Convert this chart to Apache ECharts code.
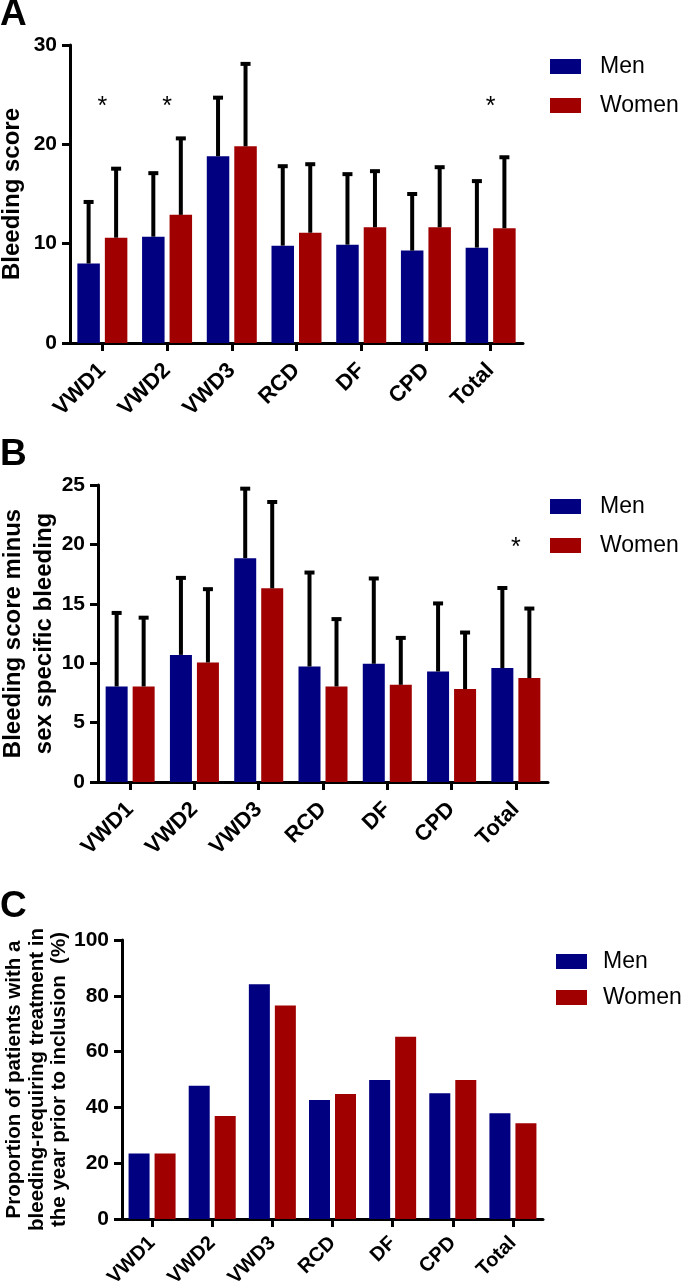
<!DOCTYPE html>
<html>
<head>
<meta charset="utf-8">
<script src="https://cdn.jsdelivr.net/npm/echarts@6/dist/echarts.min.js"></script>
<style>
html,body{margin:0;padding:0;background:#fff;}
#chart{width:683px;height:1286px;}
</style>
</head>
<body>
<div id="chart"></div>
<script>
// ---------- data ----------
const categories = ['VWD1', 'VWD2', 'VWD3', 'RCD', 'DF', 'CPD', 'Total'];
const seriesNames = ['Men', 'Women'];

// Panel A: bleeding score (mean and mean+SD)
const aMenMean = [8.0, 10.7, 18.8, 9.8, 9.9, 9.3, 9.6];
const aMenUpper = [14.4, 17.3, 24.9, 18.0, 17.2, 15.2, 16.5];
const aWomenMean = [10.6, 12.9, 19.8, 11.1, 11.65, 11.65, 11.55];
const aWomenUpper = [17.75, 20.8, 28.3, 18.2, 17.5, 17.9, 18.9];
const aStars = [['VWD1', 24.2], ['VWD2', 24.2], ['Total', 24.2]];

// Panel B: bleeding score minus sex specific bleeding
const bMenMean = [8.04, 10.7, 18.84, 9.72, 9.95, 9.3, 9.59];
const bMenUpper = [14.4, 17.35, 24.86, 17.8, 17.3, 15.2, 16.5];
const bWomenMean = [8.04, 10.06, 16.3, 8.04, 8.18, 7.82, 8.75];
const bWomenUpper = [14.0, 16.4, 23.74, 13.88, 12.3, 12.75, 14.77];
const bStars = [['Total', 20.0]];

// Panel C: proportion (%) with bleeding-requiring treatment
const cMen = [23.5, 47.8, 84.1, 42.65, 49.8, 45.05, 37.9];
const cWomen = [23.5, 36.9, 76.5, 44.8, 65.3, 49.8, 34.3];

// axis settings
const yAxisA = {max: 30, interval: 10, name: 'Bleeding score'};
const yAxisB = {max: 25, interval: 5, name: 'Bleeding score minus\nsex specific bleeding'};
const yAxisC = {max: 100, interval: 20, name: 'Proportion of patients with a\nbleeding-requiring treatment in\nthe year prior to inclusion  (%)'};

// ---------- styles ----------
const FONT = "'Liberation Sans', Arial, Helvetica, sans-serif";
const BLUE = '#000080';
const RED = '#a00000';

const panels = [
  {grid: {left: 70, top: 45, width: 453, height: 298}, bw: 22.5, gap: 5, y: yAxisA, nameGap: 45, nameFont: 24, nameLH: 26,
   xFont: 22, xMargin: 24,
   men: aMenMean, women: aWomenMean, menUp: aMenUpper, womenUp: aWomenUpper, stars: aStars,
   legendTop: 55, legendGap: 16, legendLeft: 550, legendPad: 14, letter: 'A', letterY: 14},
  {grid: {left: 98, top: 485, width: 450, height: 297}, bw: 22, gap: 5, y: yAxisB, nameGap: 38.5, nameFont: 24, nameLH: 31,
   xFont: 22, xMargin: 24,
   men: bMenMean, women: bWomenMean, menUp: bMenUpper, womenUp: bWomenUpper, stars: bStars,
   legendTop: 495, legendGap: 16, legendLeft: 550, legendPad: 14, letter: 'B', letterY: 454},
  {grid: {left: 122, top: 940, width: 421, height: 279}, bw: 21, gap: 5, y: yAxisC, nameGap: 51, nameFont: 20.5, nameLH: 22.5,
   xFont: 20, xMargin: 21,
   men: cMen, women: cWomen, menUp: null, womenUp: null, stars: [],
   legendTop: 950, legendGap: 13, legendLeft: 556, legendPad: 11, letter: 'C', letterY: 906}
];

const grids = [], xAxes = [], yAxes = [], series = [], legends = [], graphics = [];

panels.forEach((p, i) => {
  grids.push(Object.assign({containLabel: false, outerBoundsMode: 'none'}, p.grid));
  xAxes.push({
    type: 'category', gridIndex: i, data: categories,
    axisLine: {lineStyle: {color: '#000', width: 3}},
    axisTick: {show: true, alignWithLabel: true, length: 8, lineStyle: {color: '#000', width: 3}},
    axisLabel: {rotate: 45, margin: p.xMargin, color: '#000', fontFamily: FONT, fontWeight: 'bold', fontSize: p.xFont, interval: 0}
  });
  yAxes.push({
    type: 'value', gridIndex: i, min: 0, max: p.y.max, interval: p.y.interval,
    name: p.y.name, nameLocation: 'middle', nameRotate: 90, nameGap: p.nameGap, nameMoveOverlap: false,
    nameTextStyle: {color: '#000', fontFamily: FONT, fontWeight: 'bold', fontSize: p.nameFont, lineHeight: p.nameLH, align: 'center'},
    axisLine: {show: true, lineStyle: {color: '#000', width: 3}},
    axisTick: {show: true, length: 8, lineStyle: {color: '#000', width: 3}},
    axisLabel: {margin: 13, color: '#000', fontFamily: FONT, fontWeight: 'bold', fontSize: 21},
    splitLine: {show: false}
  });
  const barCommon = {type: 'bar', xAxisIndex: i, yAxisIndex: i, barWidth: p.bw, barGap: (p.gap / p.bw * 100) + '%', z: 2};
  series.push(Object.assign({name: 'Men', data: p.men, itemStyle: {color: BLUE}}, barCommon));
  series.push(Object.assign({name: 'Women', data: p.women, itemStyle: {color: RED}}, barCommon));

  const off = (p.bw + p.gap) / 2;
  const errSeries = (mean, up, dx, nm) => ({
    type: 'custom', name: nm, xAxisIndex: i, yAxisIndex: i, z: 5,
    data: mean.map((m, k) => [k, m, up[k]]),
    renderItem: function (params, api) {
      const top = api.coord([api.value(0), api.value(2)]);
      const base = api.coord([api.value(0), api.value(1)]);
      const cx = top[0] + dx;
      return {
        type: 'group', children: [
          {type: 'line', shape: {x1: cx, y1: base[1], x2: cx, y2: top[1] + 1}, style: {stroke: '#000', lineWidth: 4}},
          {type: 'line', shape: {x1: cx - 5, y1: top[1] + 2, x2: cx + 5, y2: top[1] + 2}, style: {stroke: '#000', lineWidth: 4}}
        ]
      };
    }
  });
  if (p.menUp) {
    series.push(errSeries(p.men, p.menUp, -off, 'errMen' + i));
    series.push(errSeries(p.women, p.womenUp, off, 'errWomen' + i));
  }
  if (p.stars.length) {
    series.push({
      type: 'custom', name: 'stars' + i, xAxisIndex: i, yAxisIndex: i, z: 6,
      data: p.stars,
      renderItem: function (params, api) {
        const pt = api.coord([api.value(0), api.value(1)]);
        return {type: 'text', x: pt[0], y: pt[1] + 4, style: {text: '*', fill: '#000', font: '25px ' + FONT, textAlign: 'center', textVerticalAlign: 'middle'}};
      }
    });
  }
  legends.push({
    data: seriesNames, orient: 'vertical', left: p.legendLeft, top: p.legendTop, padding: 0,
    itemWidth: 31, itemHeight: 15, itemGap: p.legendGap, icon: 'rect', selectedMode: false,
    textStyle: {color: '#000', fontFamily: FONT, fontSize: 23, lineHeight: 20, padding: [0, 0, 0, p.legendPad]}
  });
  graphics.push({type: 'text', left: 0, top: p.letterY - 18, style: {text: p.letter, fill: '#000', font: 'bold 37px ' + FONT}});
});

const chart = echarts.init(document.getElementById('chart'), null, {renderer: 'canvas'});
chart.setOption({
  animation: false,
  backgroundColor: '#fff',
  grid: grids, xAxis: xAxes, yAxis: yAxes, series: series, legend: legends, graphic: graphics
});
</script>
</body>
</html>
